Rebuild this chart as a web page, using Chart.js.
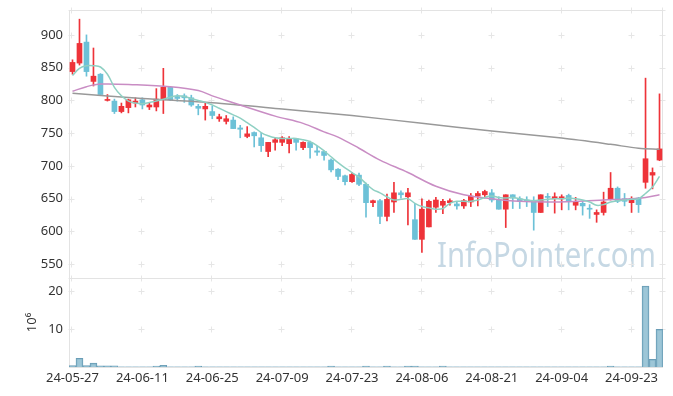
<!DOCTYPE html>
<html><head><meta charset="utf-8">
<script src="https://cdn.jsdelivr.net/npm/chart.js@4.4.1/dist/chart.umd.min.js"></script>
<style>html,body{margin:0;padding:0;background:#fff;}</style>
</head><body>
<canvas id="c" width="673" height="396" style="display:block;width:673px;height:396px"></canvas>
<script>
const dates = ['24-05-27','24-05-28','24-05-29','24-05-30','24-05-31',
'24-06-03','24-06-04','24-06-05','24-06-07','24-06-10','24-06-11','24-06-12','24-06-13','24-06-14','24-06-17','24-06-18','24-06-19','24-06-20','24-06-21','24-06-24','24-06-25','24-06-26','24-06-27','24-06-28',
'24-07-01','24-07-02','24-07-03','24-07-04','24-07-05','24-07-08','24-07-09','24-07-10','24-07-11','24-07-12','24-07-15','24-07-16','24-07-17','24-07-18','24-07-19','24-07-22','24-07-23','24-07-24','24-07-25','24-07-26','24-07-29','24-07-30','24-07-31',
'24-08-01','24-08-02','24-08-05','24-08-06','24-08-07','24-08-08','24-08-09','24-08-12','24-08-13','24-08-14','24-08-16','24-08-19','24-08-20','24-08-21','24-08-22','24-08-23','24-08-26','24-08-27','24-08-28','24-08-29','24-08-30',
'24-09-02','24-09-03','24-09-04','24-09-05','24-09-06','24-09-09','24-09-10','24-09-11','24-09-12','24-09-13','24-09-19','24-09-20','24-09-23','24-09-24','24-09-25','24-09-26','24-09-27'];

const openP  = [844,857,889,829,840,800,799,783,789,796,801,790,790,801,820,806,807,804,791,787,783,772,768,770,758,745,751,743,722,736,736,734,741,728,736,723,722,709,695,685,676,686,672,644,647,623,645,659,653,618,588,607,637,640,644,642,639,645,654,656,659,649,634,656,650,648,647,629,653,650,650,655,640,643,635,626,629,650,666,650,644,651,675,686,709];
const highP  = [862,924,900,880,841,809,802,796,802,804,804,796,818,849,821,809,810,808,794,797,791,779,777,775,762,760,752,750,736,743,745,745,742,737,738,730,723,711,696,686,690,689,674,648,649,657,675,662,666,643,650,648,652,649,650,645,649,658,661,663,664,653,656,656,653,653,653,656,658,659,656,657,652,646,641,633,660,690,668,658,653,652,834,697,810];
const lowP   = [840,854,837,822,809,799,780,781,781,790,787,786,784,780,800,799,797,791,778,770,772,768,764,757,743,743,729,722,714,724,731,720,724,725,712,716,709,691,679,671,675,670,622,638,612,616,629,651,610,588,568,607,629,627,640,634,635,638,639,651,645,634,606,635,635,638,602,629,638,628,633,633,633,625,620,614,625,648,644,639,629,629,666,665,708];
const closeP = [858,887,844,837,809,801,783,791,801,799,793,793,802,820,801,803,804,793,788,791,777,775,772,757,756,749,746,731,736,740,743,742,736,736,728,721,716,694,684,676,687,672,644,647,623,649,659,656,659,588,634,646,648,646,647,639,647,654,658,661,648,634,656,651,646,646,629,656,652,653,653,647,645,639,634,629,645,666,646,646,650,641,711,690,726];
// volume in millions of shares
const volume = [0.35,2.3,0.35,1.0,0.3,0.3,0.3,0.05,0.05,0.05,0.05,0.05,0.25,0.45,0.05,0.05,0.05,0.05,0.25,0.05,0.05,0.05,0.05,0.05,0.05,0.05,0.05,0.05,0.05,0.05,0.05,0.05,0.05,0.05,0.05,0.05,0.05,0.25,0.05,0.05,0.05,0.05,0.25,0.05,0.05,0.25,0.05,0.05,0.25,0.25,0.05,0.05,0.05,0.25,0.05,0.05,0.05,0.05,0.05,0.05,0.05,0.05,0.05,0.05,0.05,0.05,0.05,0.05,0.05,0.05,0.05,0.05,0.05,0.05,0.05,0.05,0.05,0.25,0.05,0.05,0.05,0.05,21.3,2.0,9.9];
// short moving average (read per candle)
const ma5 = [838,849,853,853,851,840,820,807,799,796,795,797,799,802,805,807,806,803,800,797,793,788,783,778,773,766,759,751,746,743,742,742,742,740,737,731,723,714,705,697,690,683,673,664,659,653,648,649,650,643,638,636,634,635,643,646,646,646,648,652,654,652,651,652,650,648,647,648,649,650,650,651,650,648,645,640,641,645,647,648,649,650,658,668,684];
// mid moving average (read at selected candles)
const ma20Idx = [0,2,4,9,14,18,20,22,24,29,33,36,38,41,44,48,52,56,60,64,68,72,76,80,82,84];
const ma20Val = [814,821,825,824,821,815,807,800,793,776,765,752,744,727,709,690,669,656,650,646,645,646,648,650,652,656];
// long moving average (read at selected candles)
const ma60Idx = [0,10,20,30,40,50,60,70,77,81,84];
const ma60Val = [811,803,796.5,787,777,765,753.5,742.5,733,727,725.5];

const yTicks = [550,600,650,700,750,800,850,900];
const vTicks = [10,20];

const UP = '#ee3339', DOWN = '#6cc1d7';
const candleColor = dates.map((d,i)=> closeP[i] >= openP[i] ? UP : DOWN);

const bgPlugin = {
  id: 'panels',
  beforeDatasetsDraw(chart) {
    const {ctx, chartArea} = chart;
    const xs = chart.scales.x, yp = chart.scales.y, yv = chart.scales.yv;
    ctx.save();
    const text = 'InfoPointer.com';
    ctx.font = '35px "Noto Sans"';
    const w = ctx.measureText(text).width;
    ctx.translate(chartArea.right - 226, yp.bottom - 11);
    ctx.scale(219 / w, 1);
    ctx.fillStyle = '#c6d8e4';
    ctx.textBaseline = 'alphabetic';
    ctx.fillText(text, 0, 0);
    ctx.restore();

    ctx.save();
    ctx.strokeStyle = '#e6e6e6';
    ctx.lineWidth = 1;
    const cols = [];
    dates.forEach((d,i)=>{ if (i % 10 === 0) cols.push(Math.round(xs.getPixelForValue(i)) - 0.5); });
    cols.push(Math.round(chartArea.right) - 0.5);
    [[yp, yTicks],[yv, vTicks]].forEach(([s, tv]) => {
      const rows = tv.map(v => Math.round(s.getPixelForValue(v)) + 0.5);
      rows.push(Math.round(s.top) + 0.5);
      rows.forEach(ry => cols.forEach(cx => {
        ctx.beginPath();
        ctx.moveTo(cx - 3, ry); ctx.lineTo(cx + 3, ry);
        ctx.moveTo(cx, ry - 3); ctx.lineTo(cx, ry + 3);
        ctx.stroke();
      }));
    });
    ctx.strokeStyle = '#e3e3e3';
    [yp, yv].forEach(s => {
      ctx.strokeRect(Math.round(chartArea.left) + 0.5, Math.round(s.top) + 0.5,
        Math.round(chartArea.right - chartArea.left) - 1, Math.round(s.bottom - s.top));
    });
    ctx.restore();
  }
};

const font = {family: '"Noto Sans", sans-serif', size: 13};
function noPad(s) { s.paddingTop = 0; s.paddingBottom = 0; s.paddingLeft = 0; s.paddingRight = 0; }

new Chart(document.getElementById('c'), {
  data: {
    labels: dates,
    datasets: [
      {type: 'line', label: 'MA5', data: ma5, yAxisID: 'y', borderColor: '#8fd0c3', borderWidth: 1.5, pointRadius: 0, tension: 0.35, order: 0},
      {type: 'line', label: 'MA20', data: ma20Idx.map((i,k)=>({x: dates[i], y: ma20Val[k]})), yAxisID: 'y', borderColor: '#c98dc4', borderWidth: 1.5, pointRadius: 0, tension: 0.35, order: 0},
      {type: 'line', label: 'MA60', data: ma60Idx.map((i,k)=>({x: dates[i], y: ma60Val[k]})), yAxisID: 'y', borderColor: '#999999', borderWidth: 1.5, pointRadius: 0, tension: 0.3, order: 0},
      {type: 'bar', label: 'body', data: dates.map((d,i)=>[openP[i], closeP[i]]), yAxisID: 'y', backgroundColor: candleColor, barThickness: 5, grouped: false, minBarLength: 1, order: 1},
      {type: 'bar', label: 'wick', data: dates.map((d,i)=>[lowP[i], highP[i]]), yAxisID: 'y', backgroundColor: candleColor, barThickness: 1, grouped: false, order: 2},
      {type: 'bar', label: 'volume', data: volume, yAxisID: 'yv', backgroundColor: 'rgba(140,188,208,0.85)', borderColor: '#6a9db6', borderWidth: 1, categoryPercentage: 1, barPercentage: 1, grouped: false, order: 3}
    ]
  },
  options: {
    responsive: false,
    animation: false,
    layout: {padding: {top: 10, right: 10, left: 0, bottom: 0}},
    plugins: {legend: {display: false}, tooltip: {enabled: false}},
    scales: {
      x: {
        type: 'category', offset: true,
        grid: {display: false, drawTicks: false, tickLength: 0}, border: {display: false},
        ticks: {autoSkip: false, maxRotation: 0, padding: 3, color: '#333', font,
          callback: function(v, i) { return i % 10 === 0 ? dates[i] : null; }},
        afterFit(s) { s.height = 29; noPad(s); }
      },
      y: {
        type: 'linear', position: 'left', stack: 'p', stackWeight: 268, weight: 1,
        min: 529, max: 938,
        grid: {display: false, drawTicks: false, tickLength: 0}, border: {display: false},
        ticks: {stepSize: 50, includeBounds: false, padding: 6, color: '#333', font},
        afterFit(s) { s.width = 69; noPad(s); }
      },
      yv: {
        type: 'linear', position: 'left', stack: 'p', stackWeight: 89, weight: 0,
        min: 0, max: 23.4,
        grid: {display: false, drawTicks: false, tickLength: 0}, border: {display: false},
        title: {display: true, text: '10⁶', color: '#333', font, padding: {top: 24, bottom: 0}},
        ticks: {stepSize: 10, includeBounds: false, padding: 6, color: '#333', font,
          callback: v => v === 0 ? '' : v},
        afterFit(s) { s.width = 69; noPad(s); }
      }
    }
  },
  plugins: [bgPlugin]
});
</script>
</body></html>
